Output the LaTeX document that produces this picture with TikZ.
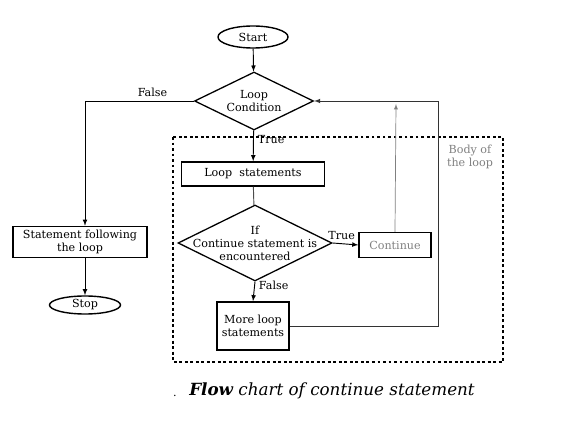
\documentclass[tikz,border=0pt]{standalone}
\usepackage{fontspec}
\setmainfont{DejaVu Serif}
\usepackage{tikz}
\usetikzlibrary{calc}
\usetikzlibrary{shapes.geometric}
\usetikzlibrary{positioning}
\usetikzlibrary{arrows.meta}

\begin{document}
\begin{tikzpicture}[
		x=0.03cm, y=-0.03cm,
		font=\fontsize{9.5}{11}\selectfont,
		box/.style={draw, rectangle, line width=1.3pt, align=center, inner sep=1pt},
		terminal/.style={draw, ellipse, line width=1.2pt, inner sep=0pt},
		decision/.style={draw, diamond, line width=1.1pt, aspect=2, inner sep=0pt, align=center},
		arrow/.style={->, >=latex, line width=0.8pt},
		line/.style={line width=0.8pt, black!70}
		]
		\useasboundingbox (0,0) rectangle (581,429);
		
		% Тело цикла
		\draw[line width=1.2pt, dash pattern=on 2.5pt off 2.2pt] (173,137) rectangle (503,362);
		\node[gray, align=center] (bodylabel) at (470,157) {Body of\\the loop};
		
		% Блоки
		\node[terminal, minimum width=2.1cm, minimum height=0.66cm] (start) at (253,37) {Start};
		\node[decision, minimum width=3.57cm, minimum height=1.74cm] (cond) at (254,101) {Loop\\Condition};
		\node[box, minimum width=4.29cm, minimum height=0.72cm] (body) at (253,174) {Loop~~statements};
		\node[decision, minimum width=4.62cm, minimum height=2.28cm,
			label={[align=center]center:If\\Continue statement is\\encountered}] (check) at (255,243) {};
		\node[box, line width=1.1pt, minimum width=2.16cm, minimum height=0.75cm] (cont) at (395,245) {\color{gray}Continue};
		\node[box, minimum width=2.16cm, minimum height=1.44cm] (more) at (253,326) {More loop\\statements};
		\node[box, minimum width=4.02cm, minimum height=0.93cm] (after) at (80,242) {Statement following\\the loop};
		\node[terminal, minimum width=2.13cm, minimum height=0.54cm] (stop) at (85,305) {Stop};
		
		% Стрелки
		\draw[arrow] (start) -- (cond);
		\draw[arrow] (cond) -- node[right, pos=0.3] {True} (body);
		\draw[line] (body) -- (check);
		\draw[arrow] (check.east) -- node[above, pos=0.35] {True} (cont.west);
		\draw[arrow] (check.south) -- node[right, pos=0.2] {False} (more.north);
		\draw[arrow] (cond.west) -| node[above, pos=0.19] {False} (stop |- after.north);
		\draw[arrow] (stop |- after.south) -- (stop);
		
		% Возврат к условию
		\coordinate (back) at (438,101);
		\draw[arrow, black!80] (more.east) -| (back) -- (cond.east);
		\coordinate (conttop) at (396,104);
		\draw[->, >=latex, gray, line width=0.6pt] (cont.north) -- (conttop);
		
		% Подпись
		\node (dot) at (175,396) {.};
		\node[font=\fontsize{14.3}{16}\selectfont\itshape] (caption) at (332,391) {\textbf{Flow} chart of continue statement};
		
	\end{tikzpicture}
\end{document}
